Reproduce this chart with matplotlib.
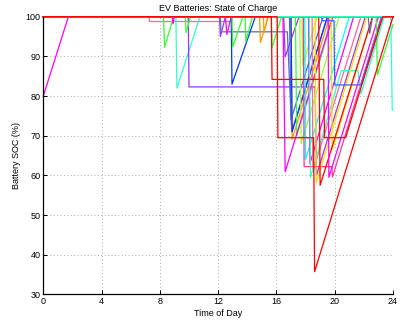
import matplotlib
matplotlib.use('Agg')
import matplotlib.pyplot as plt

plt.rcParams['font.family'] = ['Liberation Sans', 'DejaVu Sans']

RED = '#ff0000'
MAG = '#ff00ff'
PINK = '#ff6699'
ROSE = '#ff3399'
PURP = '#9933ff'
BLUE = '#0033ff'
BLUE2 = '#3366ff'
CYAN = '#00ffff'
AQUA = '#33ffcc'
GREEN = '#33ff33'
LGREEN = '#99ff33'
YEL = '#ffdd00'
ORANGE = '#ff9900'
SLATE = '#6666aa'

# hour of day, SOC (%) knots for each vehicle
trace_times = [
    [0, 1.72, 24],
    [0, 7.25, 7.3, 12.9, 13.0, 24],
    [0, 8.25, 8.32, 8.95, 24],
    [0, 9.1, 9.17, 10.75, 24],
    [0, 9.95, 10.0, 18.65, 18.75, 22.1, 24],
    [0, 8.85, 8.9, 9.0, 24],
    [0, 9.75, 9.8, 10.1, 24],
    [0, 12.1, 12.15, 12.5, 24],
    [0, 12.5, 12.6, 12.9, 24],
    [0, 12.15, 12.2, 16.75, 17.05, 19.5, 24],
    [0, 12.9, 12.95, 14.55, 24],
    [0, 12.95, 13.0, 13.7, 24],
    [0, 13.85, 13.9, 14.35, 24],
    [0, 14.85, 14.9, 15.45, 24],
    [0, 15.1, 15.15, 15.4, 24],
    [0, 15.65, 15.7, 16.35, 24],
    [0, 16.5, 16.6, 17.55, 24],
    [0, 17.75, 17.8, 18.8, 24],
    [0, 16.9, 17.0, 19.2, 24],
    [0, 17.0, 17.08, 19.65, 24],
    [0, 17.0, 17.08, 19.5, 24],
    [0, 17.3, 17.4, 19.9, 24],
    [0, 17.6, 17.7, 20.3, 24],
    [0, 16.45, 16.6, 19.85, 24],
    [0, 17.95, 18.0, 21.0, 24],
    [0, 18.2, 18.3, 21.3, 24],
    [0, 18.45, 18.5, 21.8, 24],
    [0, 17.85, 17.9, 19.8, 19.85, 23.2, 24],
    [0, 18.25, 18.34, 20.45, 21.6, 21.8, 23.4, 24],
    [0, 18.65, 18.73, 22.2, 24],
    [0, 19.75, 19.83, 22.6, 24],
    [0, 19.1, 19.15, 19.95, 20.0, 21.8, 23.25, 24],
    [0, 18.9, 19.0, 22.6, 24],
    [0, 19.55, 19.6, 23.0, 24],
    [0, 22.3, 22.4, 22.6, 24],
    [0, 22.85, 22.93, 24],
    [0, 23.85, 23.95, 24],
    [0, 15.65, 15.7, 19.25, 19.3, 20.75, 23.3, 24],
    [0, 16.05, 16.1, 18.55, 18.62, 24],
]
trace_soc = [
    [80, 100, 100],
    [100, 100, 98.8, 98.8, 100, 100],
    [100, 100, 92.3, 100, 100],
    [100, 100, 82, 100, 100],
    [100, 100, 82.3, 82.3, 60, 100, 100],
    [100, 100, 98.2, 100, 100],
    [100, 100, 96, 100, 100],
    [100, 100, 95, 100, 100],
    [100, 100, 95.5, 100, 100],
    [100, 100, 96.2, 96.2, 71, 100, 100],
    [100, 100, 83, 100, 100],
    [100, 100, 92.4, 100, 100],
    [100, 100, 93.7, 100, 100],
    [100, 100, 93.5, 100, 100],
    [100, 100, 96, 100, 100],
    [100, 100, 92.2, 100, 100],
    [100, 100, 89.9, 100, 100],
    [100, 100, 87.8, 100, 100],
    [100, 100, 74, 100, 100],
    [100, 100, 69.1, 100, 100],
    [100, 100, 71, 100, 100],
    [100, 100, 70, 100, 100],
    [100, 100, 68, 100, 100],
    [100, 100, 60.9, 100, 100],
    [100, 100, 64, 100, 100],
    [100, 100, 63, 100, 100],
    [100, 100, 61, 100, 100],
    [100, 100, 62.2, 62.2, 59.6, 100, 100],
    [100, 100, 59.5, 86.4, 86.4, 80.5, 100, 100],
    [100, 100, 58.1, 100, 100],
    [100, 100, 66.4, 100, 100],
    [100, 100, 99, 99, 82.8, 82.8, 100, 100],
    [100, 100, 57.5, 100, 100],
    [100, 100, 59.5, 100, 100],
    [100, 100, 95.8, 100, 100],
    [100, 100, 85.3, 98],
    [100, 100, 76.5, 76.5],
    [100, 100, 84.2, 84.2, 69.5, 69.5, 100, 100],
    [100, 100, 69.5, 69.5, 35.7, 100],
]
trace_colors = [
    MAG, PINK, GREEN, AQUA, PURP, MAG, GREEN, PURP, MAG, SLATE,
    BLUE, GREEN, GREEN, ORANGE, ORANGE, GREEN, PURP, LGREEN, BLUE2, ORANGE,
    BLUE, GREEN, LGREEN, MAG, CYAN, MAG, PINK, ROSE, AQUA, YEL,
    YEL, BLUE2, RED, MAG, SLATE, GREEN, AQUA, RED, RED,
]

x_ticks = [0, 4, 8, 12, 16, 20, 24]
y_ticks = [30, 40, 50, 60, 70, 80, 90, 100]

fig = plt.figure(figsize=(4.01, 3.22), dpi=100)
ax = fig.add_axes([0.108, 0.086, 0.872, 0.862])

for t, s, c in zip(trace_times, trace_soc, trace_colors):
    ax.plot(t, s, color=c, lw=0.9, clip_on=False)

ax.set_xlim(0, 24)
ax.set_ylim(30, 100)
ax.set_xticks(x_ticks)
ax.set_yticks(y_ticks)
ax.grid(True, linestyle=(0, (1, 2.5)), color='#aaaaaa', lw=0.7)
ax.spines['top'].set_visible(False)
ax.spines['right'].set_visible(False)
ax.spines['left'].set_linewidth(0.9)
ax.spines['bottom'].set_linewidth(0.9)
ax.tick_params(direction='in', length=3, width=0.7, labelsize=6.5, pad=2)
ax.set_title('EV Batteries: State of Charge', fontsize=6.5, pad=4)
ax.set_xlabel('Time of Day', fontsize=6.5, labelpad=2)
ax.set_ylabel('Battery SOC (%)', fontsize=6.5, labelpad=3)

fig.savefig('out.png', dpi=100)
